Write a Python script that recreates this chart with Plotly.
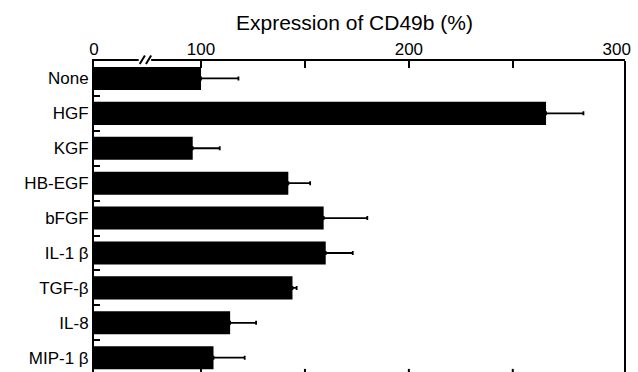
import plotly.graph_objects as go

categories = ["None", "HGF", "KGF", "HB-EGF", "bFGF", "IL-1 β", "TGF-β", "IL-8", "MIP-1 β"]
values = [100, 266, 96, 142, 159, 160, 144, 114, 106]
errors = [18, 18, 13, 10.5, 21, 13, 2, 12.5, 15]

axis_start = 48.5  # broken axis: "0" is drawn at this position
tick_vals = [axis_start, 100, 200, 300]
tick_text = ["0", "100", "200", "300"]
minor_ticks = [100, 150, 200, 250]
x_title = "Expression of CD49b (%)"

font = "Liberation Sans, Arial, Helvetica, sans-serif"

fig = go.Figure()
fig.add_trace(go.Bar(
    y=categories, x=values, orientation="h",
    marker=dict(color="black", line=dict(width=0)),
    width=0.66,
    error_x=dict(type="data", array=errors, arrayminus=[0] * len(errors),
                 symmetric=False, color="black", thickness=1.8, width=2),
))

shapes = []
# right border
shapes.append(dict(type="line", xref="paper", yref="paper", x0=1, x1=1, y0=0, y1=1,
                   line=dict(color="black", width=2)))
# bottom ticks
for v in minor_ticks:
    shapes.append(dict(type="line", xref="x", yref="paper", x0=v, x1=v, y0=0, y1=0.01,
                       line=dict(color="black", width=2)))
# axis break "//"
shapes.append(dict(type="line", xref="x", yref="paper", x0=70, x1=76, y0=1, y1=1,
                   line=dict(color="white", width=4)))
for x0 in [70.5, 73.5]:
    shapes.append(dict(type="line", xref="x", yref="paper", x0=x0, x1=x0 + 2.5,
                       y0=0.99, y1=1.018, line=dict(color="black", width=2)))

fig.update_layout(
    width=638, height=372,
    margin=dict(l=94, r=13, t=61, b=0),
    paper_bgcolor="white", plot_bgcolor="white",
    showlegend=False,
    font=dict(family=font, color="black", size=17),
    shapes=shapes,
    annotations=[dict(text=x_title, xref="paper", yref="paper", x=0.49, y=1.125,
                      xanchor="center", yanchor="middle", showarrow=False,
                      font=dict(size=21))],
    xaxis=dict(
        side="top", range=[axis_start, 304],
        tickmode="array", tickvals=tick_vals, ticktext=tick_text,
        ticks="", showgrid=False, zeroline=False,
        showline=True, linecolor="black", linewidth=2,
        tickfont=dict(size=17), ticklabeloverflow="allow", ticklabelstandoff=-3,
        minor=dict(tickmode="array", tickvals=minor_ticks, ticks="inside",
                   ticklen=7, tickwidth=2, tickcolor="black", showgrid=False),
    ),
    yaxis=dict(
        range=[8.41, -0.5],
        ticks="inside", tickson="boundaries", ticklen=6, tickwidth=2, tickcolor="black",
        showgrid=False, zeroline=False,
        showline=True, linecolor="black", linewidth=2,
        tickfont=dict(size=17),
    ),
)

fig.write_html("out.html", config={"displayModeBar": False},
               post_script="document.body.style.margin='0';")
